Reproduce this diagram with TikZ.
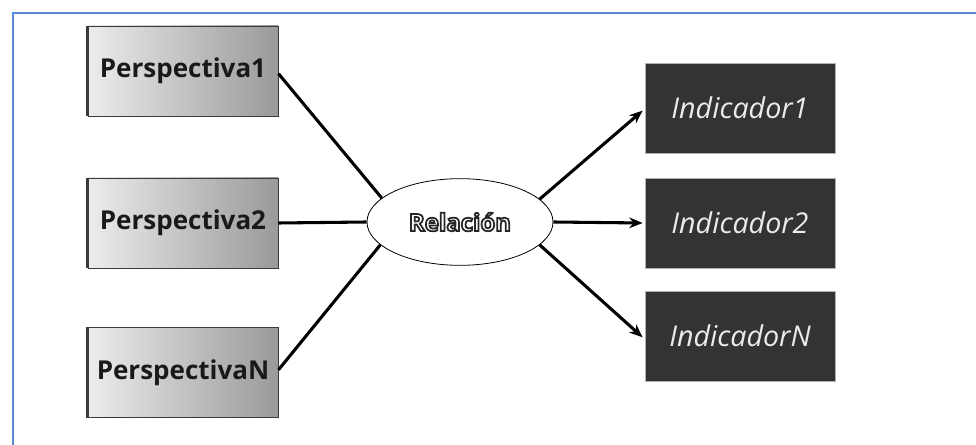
\documentclass[tikz,border=0pt]{standalone}
\usepackage{fontspec}
\setmainfont{Open Sans}
\usetikzlibrary{arrows.meta,shapes.geometric}
\definecolor{frameblue}{HTML}{5B8BD0}
\definecolor{darkbox}{HTML}{333333}
\definecolor{darkedge}{HTML}{3A3A3A}
\definecolor{gradL}{HTML}{ECECEC}
\definecolor{gradR}{HTML}{9A9A9A}
\newcommand{\outlinetext}[1]{\textcolor{white}{\special{pdf:code q 0.15 G 2 Tr 1.3 w}#1\special{pdf:code 0 Tr Q}}}
\begin{document}
\begin{tikzpicture}[x=0.75pt,y=-0.75pt,
  persp/.style={rectangle,draw=darkedge,line width=0.7pt,left color=gradL,right color=gradR,
     minimum width=142.5pt,minimum height=67.5pt,inner sep=0pt,font=\fontsize{19.5}{21}\selectfont\bfseries,text=black!90},
  indic/.style={rectangle,draw=gray!60,line width=0.6pt,fill=darkbox,
     minimum width=142.5pt,minimum height=67.5pt,inner sep=0pt,font=\fontsize{21.5}{23}\selectfont\itshape,text=white!92!black},
  rel/.style={ellipse,draw=black,line width=0.6pt,fill=white,minimum width=139.5pt,minimum height=65pt,inner sep=0pt,
     font=\fontsize{18}{20}\selectfont\bfseries},
  link/.style={line width=2.3pt,black},
  arr/.style={line width=2.3pt,black,-{Stealth[length=10pt,width=8pt]}},
  leftedge/.style={line width=1.6pt,darkedge}
]
\useasboundingbox (0,0) rectangle (976,445);
\draw[frameblue,line width=1.5pt] (13,445) -- (13,13.5) -- (976,13.5);

\node[persp] (p1) at (183,71) {Perspectiva1};
\node[persp] (p2) at (183,223) {Perspectiva2};
\node[persp] (pn) at (183,372.5) {PerspectivaN};
\draw[leftedge] (p1.north west) -- (p1.south west);
\draw[leftedge] (p2.north west) -- (p2.south west);
\draw[leftedge] (pn.north west) -- (pn.south west);

\node[rel] (r) at (460,222) {\outlinetext{Relación}};

\node[indic] (i1) at (740,108) {Indicador1};
\node[indic] (i2) at (740,223) {Indicador2};
\node[indic] (in) at (740,336) {IndicadorN};

\draw[link] ([yshift=-2pt]p1.east) -- (r.163);
\draw[link] (p2.east) -- (r.west);
\draw[link] ([yshift=2pt]pn.east) -- (r.196);

\draw[arr] (r.16) -- ([xshift=-1.5pt,yshift=-2pt]i1.west);
\draw[arr] (r.east) -- ([xshift=-1.5pt]i2.west);
\draw[arr] (r.344) -- ([xshift=-1.5pt,yshift=-1pt]in.west);
\end{tikzpicture}
\end{document}
